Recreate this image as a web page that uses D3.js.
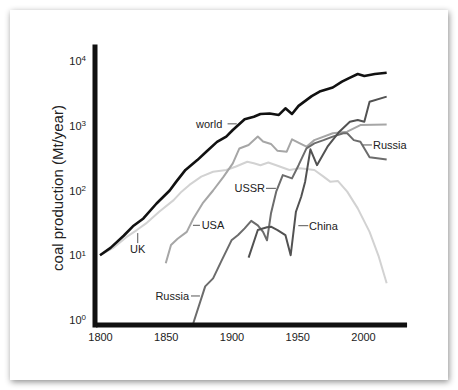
<!DOCTYPE html>
<html>
<head>
<meta charset="utf-8">
<script src="https://cdn.jsdelivr.net/npm/d3@7"></script>
<style>
  body { margin: 0; background: #fff; }
  svg { display: block; font-family: "Liberation Sans", Arial, Helvetica, sans-serif; }
</style>
</head>
<body>
<div id="chart"></div>
<script>
// values (Mt/year, log scale)
const worldYears = [1800, 1808, 1818, 1825, 1833, 1843, 1853, 1858, 1865, 1874, 1881, 1889, 1896, 1901, 1910, 1917, 1922, 1929, 1936, 1941, 1946, 1951, 1961, 1967, 1977, 1984, 1989, 1996, 2001, 2009, 2018];
const worldValues = [10, 13, 20, 28, 37, 63, 100, 137, 208, 295, 400, 563, 680, 860, 1260, 1380, 1520, 1550, 1470, 1860, 1520, 2030, 2870, 3380, 3900, 4800, 5400, 6300, 5870, 6300, 6600];

const ukYears = [1800, 1810, 1820, 1828, 1835, 1845, 1856, 1862, 1868, 1877, 1886, 1896, 1903, 1912, 1917, 1922, 1928, 1934, 1944, 1952, 1963, 1970, 1975, 1981, 1988, 1996, 2005, 2012, 2018];
const ukValues = [10, 13, 19, 24.5, 31, 47, 71, 96, 122, 164, 195, 207, 233, 278, 264, 246, 270, 246, 207, 220, 207, 164, 137, 140, 96, 53, 23, 9.5, 3.7];

const usaYears = [1850, 1854, 1859, 1866, 1871, 1878, 1886, 1894, 1901, 1906, 1913, 1920, 1924, 1930, 1935, 1942, 1946, 1952, 1957, 1963, 1977, 1988, 1998, 2018];
const usaValues = [7.5, 14.4, 18, 23, 37, 63, 100, 164, 263, 446, 505, 680, 570, 524, 410, 398, 618, 535, 475, 600, 765, 810, 1025, 1050];

// Russia -> USSR -> Russia, one line
const russiaYears = [1871, 1880, 1886, 1892, 1900, 1905, 1910, 1915, 1920, 1924, 1927, 1930, 1934, 1939, 1946, 1951, 1957, 1963, 1970, 1977, 1985, 1988, 1993, 1998, 2005, 2018];
const russiaValues = [0.9, 3.3, 4.4, 7.9, 17, 20.5, 26, 34, 29, 23, 17, 44, 96, 173, 154, 246, 447, 535, 600, 680, 765, 765, 600, 565, 325, 302];

const chinaYears = [1913, 1920, 1927, 1930, 1935, 1941, 1945, 1949, 1953, 1956, 1960, 1965, 1973, 1982, 1990, 1996, 2001, 2005, 2018];
const chinaValues = [9.2, 24.5, 27, 27.6, 24.5, 20.5, 10, 47, 80, 137, 433, 246, 475, 810, 1150, 1230, 1150, 2350, 2820];

const yearTicks = [1800, 1850, 1900, 1950, 2000];
const powerTicks = [1, 10, 100, 1000, 10000];

// label text, connector from (y1,v1) to (y2,v2), text anchored at (ty,tv)
const labels = [
    {text: "world", y1: 1897, v1: 1070, y2: 1904, v2: 1070, ty: 1893, tv: 1070, anchor: "end"},
    {text: "UK", y1: 1828.7, v1: 22, y2: 1828.7, v2: 15.4, ty: 1828.7, tv: 12.3, anchor: "middle"},
    {text: "USA", y1: 1870.7, v1: 29, y2: 1876, v2: 29, ty: 1877.3, tv: 29, anchor: "start"},
    {text: "USSR", y1: 1926.2, v1: 108, y2: 1933.8, v2: 108, ty: 1925.5, tv: 108, anchor: "end"},
    {text: "China", y1: 1950.8, v1: 28.6, y2: 1958.4, v2: 28.6, ty: 1959, tv: 28.6, anchor: "start"},
    {text: "Russia", y1: 1869.2, v1: 2.35, y2: 1876, v2: 2.35, ty: 1867.7, tv: 2.35, anchor: "end"},
    {text: "Russia", y1: 2000, v1: 505, y2: 2006.8, v2: 505, ty: 2007.6, tv: 505, anchor: "start"}
];

const W = 458, H = 390;

const svg = d3.select("#chart")
    .append("svg")
    .attr("width", W)
    .attr("height", H);

// framed card with a soft shadow
const filter = svg.append("defs").append("filter")
    .attr("id", "shadow")
    .attr("x", "-10%").attr("y", "-10%")
    .attr("width", "120%").attr("height", "120%");
filter.append("feDropShadow")
    .attr("dx", 1).attr("dy", 2)
    .attr("stdDeviation", 3)
    .attr("flood-color", "#000")
    .attr("flood-opacity", 0.45);

svg.append("rect")
    .attr("x", 10).attr("y", 10)
    .attr("width", 438).attr("height", 370)
    .attr("fill", "#fff")
    .attr("filter", "url(#shadow)");

const x = d3.scaleLinear().domain([1800, 2000]).range([100, 363]);
const y = d3.scaleLog().domain([1, 10000]).range([320, 61]);

const line = d3.line()
    .x(d => x(d[0]))
    .y(d => y(d[1]));

const series = [
    {years: ukYears, values: ukValues, color: "#d2d2d2", width: 2},
    {years: usaYears, values: usaValues, color: "#a6a6a6", width: 2},
    {years: russiaYears, values: russiaValues, color: "#6c6c6c", width: 2},
    {years: chinaYears, values: chinaValues, color: "#525252", width: 2},
    {years: worldYears, values: worldValues, color: "#111", width: 2.6}
];

svg.selectAll(".series")
    .data(series)
    .enter()
    .append("path")
    .attr("class", "series")
    .attr("fill", "none")
    .attr("stroke", d => d.color)
    .attr("stroke-width", d => d.width)
    .attr("stroke-linejoin", "round")
    .attr("d", d => line(d3.zip(d.years, d.values)));

// annotations
svg.selectAll(".lbl-line")
    .data(labels)
    .enter()
    .append("line")
    .attr("class", "lbl-line")
    .attr("x1", d => x(d.y1)).attr("y1", d => y(d.v1))
    .attr("x2", d => x(d.y2)).attr("y2", d => y(d.v2))
    .attr("stroke", "#555")
    .attr("stroke-width", 1);

svg.selectAll(".lbl")
    .data(labels)
    .enter()
    .append("text")
    .attr("class", "lbl")
    .attr("x", d => x(d.ty))
    .attr("y", d => y(d.tv))
    .attr("dy", "0.35em")
    .attr("text-anchor", d => d.anchor)
    .attr("font-size", 11)
    .attr("fill", "#222")
    .text(d => d.text);

// axes
const xAxis = svg.append("g")
    .attr("transform", "translate(0,325)")
    .call(d3.axisBottom(x).tickValues(yearTicks).tickSize(0).tickPadding(8).tickFormat(d3.format("d")));
xAxis.select(".domain").remove();
xAxis.selectAll("text").attr("font-size", 11).attr("fill", "#222").attr("font-family", null);

const yAxis = svg.append("g")
    .attr("transform", "translate(95,0)")
    .call(d3.axisLeft(y).tickValues(powerTicks).tickSize(0).tickPadding(9));
yAxis.select(".domain").remove();
yAxis.selectAll("text")
    .attr("font-size", 11)
    .attr("fill", "#222")
    .attr("font-family", null)
    .each(function(d) {
        const t = d3.select(this).text(null);
        t.append("tspan").text("10");
        t.append("tspan").attr("dy", "-0.45em").attr("font-size", 8).text(Math.round(Math.log10(d)));
    });

// thick axis lines
svg.append("line")
    .attr("x1", x(1797)).attr("x2", x(2033.5))
    .attr("y1", 325).attr("y2", 325)
    .attr("stroke", "#111").attr("stroke-width", 5);
svg.append("line")
    .attr("x1", 95).attr("x2", 95)
    .attr("y1", y(14000) - 7).attr("y2", 327.5)
    .attr("stroke", "#111").attr("stroke-width", 5);

svg.append("text")
    .attr("transform", "translate(63,188) rotate(-90)")
    .attr("text-anchor", "middle")
    .attr("font-size", 15)
    .attr("fill", "#222")
    .text("coal production (Mt/year)");
</script>
</body>
</html>
